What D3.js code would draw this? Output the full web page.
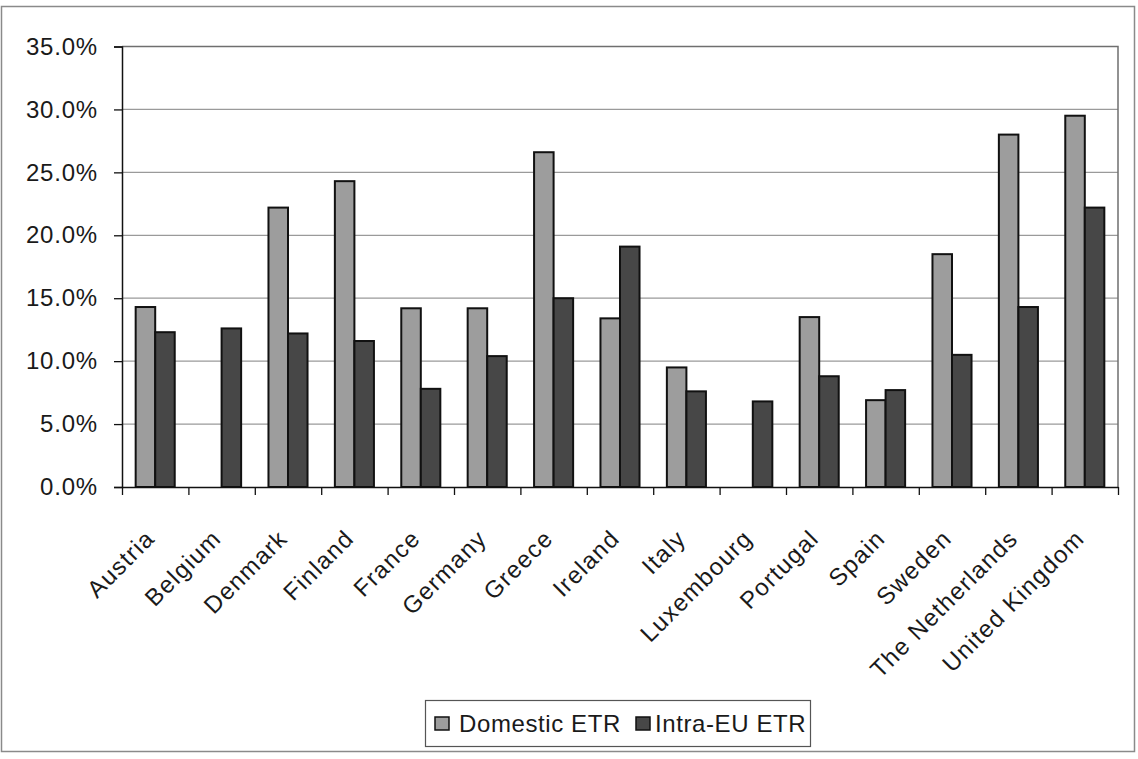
<!DOCTYPE html>
<html>
<head>
<meta charset="utf-8">
<script src="https://cdn.jsdelivr.net/npm/d3@7"></script>
<style>
  html, body { margin: 0; padding: 0; background: #fff; }
  svg { display: block; }
  text { font-family: "Liberation Sans", Arial, Helvetica, sans-serif; fill: #1a1a1a; }
</style>
</head>
<body>
<svg id="chart" width="1138" height="759"></svg>
<script>
// Effective tax rates by member state (percent)
const countries = ["Austria", "Belgium", "Denmark", "Finland", "France", "Germany", "Greece",
  "Ireland", "Italy", "Luxembourg", "Portugal", "Spain", "Sweden", "The Netherlands", "United Kingdom"];
const domesticETR = [14.3, 0, 22.2, 24.3, 14.2, 14.2, 26.6, 13.4, 9.5, 0, 13.5, 6.9, 18.5, 28.0, 29.5];
const intraEuETR  = [12.3, 12.6, 12.2, 11.6, 7.8, 10.4, 15.0, 19.1, 7.6, 6.8, 8.8, 7.7, 10.5, 14.3, 22.2];
const seriesNames = ["Domestic ETR", "Intra-EU ETR"];
const yTicks = [0, 5, 10, 15, 20, 25, 30, 35];

const colors = { "Domestic ETR": "#9d9d9d", "Intra-EU ETR": "#474747" };

const svg = d3.select("#chart");
const plot = { left: 122, right: 1118, top: 46.5, bottom: 487 };

// outer chart frame
svg.append("rect")
  .attr("x", 1.5).attr("y", 6.5)
  .attr("width", 1133).attr("height", 745)
  .attr("fill", "none").attr("stroke", "#8a8a8a").attr("stroke-width", 1.5);

const x = d3.scaleBand().domain(countries).range([plot.left, plot.right]).padding(0);
const step = x.step();
const groupW = step * 2 / 3.4;
const xs = d3.scaleBand().domain(seriesNames).range([0, groupW]).padding(0);
const y = d3.scaleLinear().domain([0, 35]).range([plot.bottom, plot.top]);

// horizontal gridlines
svg.append("g").selectAll("line")
  .data(yTicks.filter(t => t > 0 && t < 35))
  .join("line")
  .attr("x1", plot.left).attr("x2", plot.right)
  .attr("y1", d => y(d)).attr("y2", d => y(d))
  .attr("stroke", "#9a9a9a").attr("stroke-width", 1.2);

// plot area border (top and right)
svg.append("path")
  .attr("d", `M${plot.left},${y(35)}H${plot.right}V${plot.bottom}`)
  .attr("fill", "none").attr("stroke", "#6f6f6f").attr("stroke-width", 1.5);

// bars
const rows = countries.map((c, i) => ({ c, vals: [
  { s: seriesNames[0], v: domesticETR[i] },
  { s: seriesNames[1], v: intraEuETR[i] }
]}));

const groups = svg.append("g").selectAll("g")
  .data(rows).join("g")
  .attr("transform", d => `translate(${x(d.c) + (step - groupW) / 2},0)`);

groups.selectAll("rect")
  .data(d => d.vals.filter(e => e.v > 0))
  .join("rect")
  .attr("x", d => xs(d.s))
  .attr("width", xs.bandwidth())
  .attr("y", d => y(d.v))
  .attr("height", d => y(0) - y(d.v))
  .attr("fill", d => colors[d.s])
  .attr("stroke", "#111").attr("stroke-width", 2);

// y axis
const yAxis = d3.axisLeft(y)
  .tickValues(yTicks)
  .tickFormat(d => d.toFixed(1) + "%")
  .tickSize(8).tickPadding(16);
const gy = svg.append("g").attr("transform", `translate(${plot.left},0)`).call(yAxis);
gy.select(".domain").attr("stroke", "#111").attr("stroke-width", 1.5);
gy.selectAll(".tick line").attr("stroke", "#111").attr("stroke-width", 1.3);
gy.selectAll(".tick text").attr("font-size", 24).attr("fill", "#1a1a1a")
  .attr("letter-spacing", 0.8)
  .style("font-family", '"Liberation Sans", Arial, sans-serif');

// x axis: ticks at category boundaries
const xb = d3.scaleLinear().domain([0, countries.length]).range([plot.left, plot.right]);
const xAxis = d3.axisBottom(xb)
  .tickValues(d3.range(countries.length + 1))
  .tickFormat("").tickSize(8).tickSizeOuter(0);
const gx = svg.append("g").attr("transform", `translate(0,${plot.bottom})`).call(xAxis);
gx.select(".domain").attr("stroke", "#111").attr("stroke-width", 1.5);
gx.selectAll(".tick line").attr("stroke", "#111").attr("stroke-width", 1.3);

// rotated category labels
svg.append("g").selectAll("text")
  .data(countries).join("text")
  .attr("transform", d => `translate(${x(d) + step / 2 + 1},${plot.bottom + 53}) rotate(-45)`)
  .attr("text-anchor", "end")
  .attr("font-size", 24)
  .attr("letter-spacing", 1.3)
  .text(d => d);

// legend
const legend = svg.append("g");
legend.append("rect")
  .attr("x", 425.5).attr("y", 700.5).attr("width", 385).attr("height", 46)
  .attr("fill", "#fff").attr("stroke", "#555").attr("stroke-width", 1.2);
const legendItems = [
  { s: seriesNames[0], sx: 435, tx: 459 },
  { s: seriesNames[1], sx: 636, tx: 655 }
];
legend.selectAll("rect.sw").data(legendItems).join("rect")
  .attr("class", "sw")
  .attr("x", d => d.sx).attr("y", 717).attr("width", 14).attr("height", 13)
  .attr("fill", d => colors[d.s]).attr("stroke", "#111").attr("stroke-width", 1.5);
legend.selectAll("text").data(legendItems).join("text")
  .attr("x", d => d.tx).attr("y", 732)
  .attr("font-size", 24)
  .attr("letter-spacing", 0.6)
  .text(d => d.s);
</script>
</body>
</html>
